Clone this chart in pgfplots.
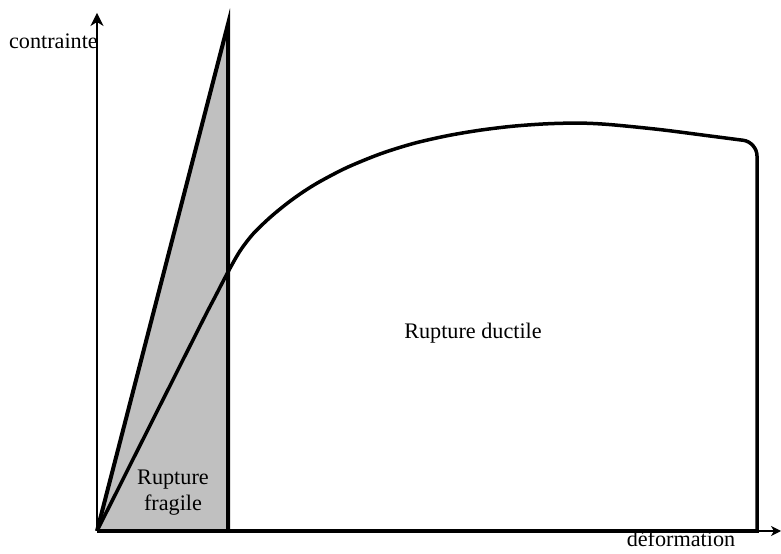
\documentclass[border=0pt]{standalone}
\usepackage{pgfplots}
\pgfplotsset{compat=1.18}
\usepackage{fontspec}
\setmainfont{Liberation Serif}
\usetikzlibrary{arrows.meta}
\definecolor{fillgray}{HTML}{C0C0C0}
\newcommand{\bigf}{\fontsize{22.2bp}{25bp}\selectfont}
\begin{document}
\begin{tikzpicture}
\begin{axis}[
  x=1bp, y=1bp, scale only axis,
  xmin=-97, xmax=684, ymin=-23, ymax=531,
  hide axis, clip=false,
]
\coordinate (ll) at (rel axis cs:0,0);
\coordinate (ur) at (rel axis cs:1,1);
% grey brittle triangle
\addplot[draw=none, fill=fillgray] coordinates {(0,0) (131,507) (131,0)} -- cycle;
% axes
\addplot[line width=1.3bp, -{Stealth[length=13bp,width=13bp,inset=4bp]}] coordinates {(0,0) (0,518)};
\addplot[line width=1.3bp, -{Stealth[length=10bp,width=10bp,inset=3bp]}] coordinates {(0,0) (684,0)};
% brittle outline
\addplot[line width=4bp, line join=miter] coordinates {(0,0) (131,507) (131,0)};
% ductile curve
\addplot[line width=3.5bp, smooth, tension=0.5] coordinates {
(0,0) (100,199) (118,234) (131,259) (143,280) (156,297) (173,313.5) (190,327.5) (206,339) (223,349.5) (250,363.5) (283,377) (316,387.4) (350,395.2) (383,400.8) (416,404.8) (450,407.2) (483,407.9) (513,406.4) (563,401.4) (613,395) (640,391.5)};
\addplot[line width=3.5bp, rounded corners=14bp] coordinates {(640,391.5) (660,389) (660,0)};
% bottom thick line
\addplot[line width=4bp] coordinates {(0,0) (662,0)};
\node[font=\bigf, inner sep=0pt, anchor=base east] at (axis cs:1,482) {contrainte};
\node[font=\bigf, inner sep=0pt, anchor=base] at (axis cs:584,-16) {déformation};
\node[font=\bigf, inner sep=0pt, anchor=base] at (axis cs:376,192) {Rupture ductile};
\node[font=\bigf, inner sep=0pt, anchor=base] at (axis cs:76,46) {Rupture};
\node[font=\bigf, inner sep=0pt, anchor=base] at (axis cs:76,20) {fragile};
\end{axis}
\pgfresetboundingbox
\path (ll) rectangle (ur);
\end{tikzpicture}
\end{document}
